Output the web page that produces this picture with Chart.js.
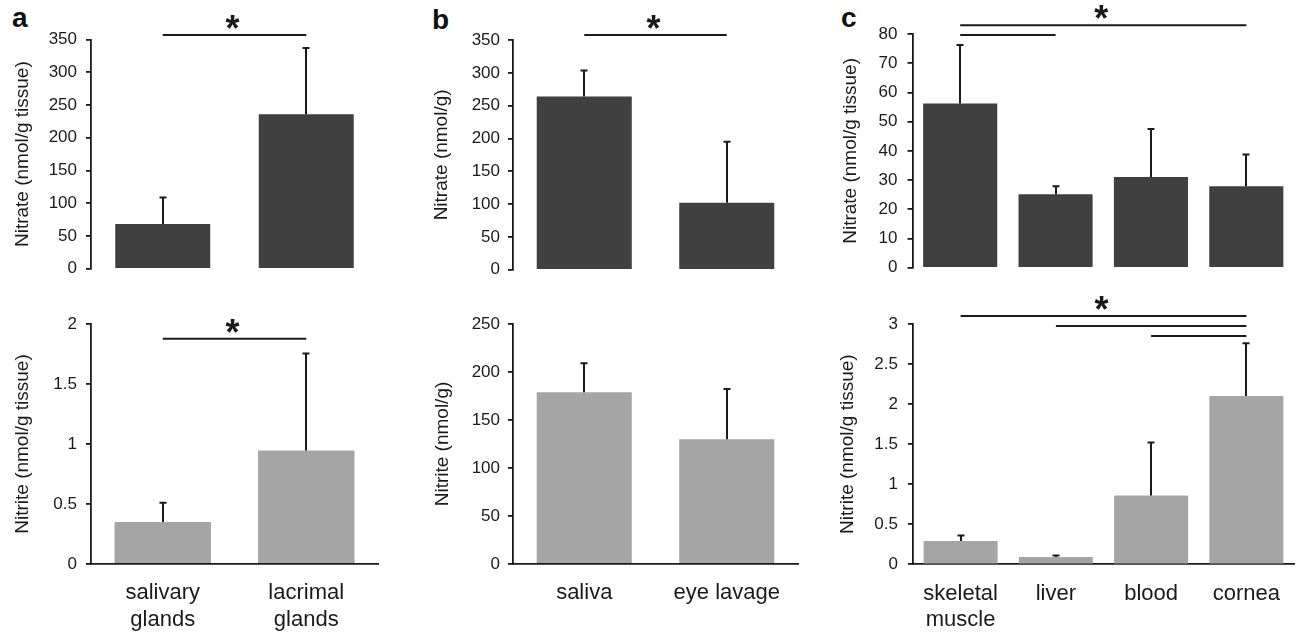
<!DOCTYPE html>
<html>
<head>
<meta charset="utf-8">
<script src="https://cdn.jsdelivr.net/npm/chart.js@4.4.1/dist/chart.umd.min.js"></script>
<style>
  html, body { margin: 0; padding: 0; background: #fff; }
  #wrap { position: relative; width: 1300px; height: 633px; overflow: hidden; }
  #wrap canvas { position: absolute; }
  .tag { position: absolute; font: bold 28px "Liberation Sans", Arial, sans-serif; line-height: 1; color: #111; }
</style>
</head>
<body>
<div id="wrap">
  <div class="tag" style="left:12px;top:4px">a</div>
  <div class="tag" style="left:432px;top:6px">b</div>
  <div class="tag" style="left:841px;top:4px">c</div>
  <canvas id="aTop"></canvas>
  <canvas id="aBot"></canvas>
  <canvas id="bTop"></canvas>
  <canvas id="bBot"></canvas>
  <canvas id="cTop"></canvas>
  <canvas id="cBot"></canvas>
</div>
<script>
// --- data ---
const aCats = [['salivary', 'glands'], ['lacrimal', 'glands']];
const aNitrate = [68.5, 236];
const aNitrateSD = [40.5, 101];
const aNitrite = [0.35, 0.945];
const aNitriteSD = [0.16, 0.81];

const bCats = ['saliva', 'eye lavage'];
const bNitrate = [264, 102];
const bNitrateSD = [39.5, 93];
const bNitrite = [179, 130];
const bNitriteSD = [30, 52.4];

const cCats = [['skeletal', 'muscle'], 'liver', 'blood', 'cornea'];
const cNitrate = [56.2, 25.2, 31.1, 27.9];
const cNitrateSD = [20, 2.7, 16.4, 10.9];
const cNitrite = [0.29, 0.09, 0.86, 2.10];
const cNitriteSD = [0.07, 0.02, 0.66, 0.66];

// tick values
const ticks350 = [0, 50, 100, 150, 200, 250, 300, 350];
const ticks2 = [0, 0.5, 1, 1.5, 2];
const ticks250 = [0, 50, 100, 150, 200, 250];
const ticks80 = [0, 10, 20, 30, 40, 50, 60, 70, 80];
const ticks3 = [0, 0.5, 1, 1.5, 2, 2.5, 3];

// significance brackets: [from category, to category, y value]
const aNitrateSig = [[0, 1, 357]];
const aNitriteSig = [[0, 1, 1.877]];
const bNitrateSig = [[0, 1, 357.7]];
const cNitrateSig = [[0, 3, 83.0], [0, 1, 79.7]];
const cNitriteSig = [[0, 3, 3.10], [1, 3, 2.975], [2, 3, 2.85]];

const DARK = '#404040';
const LIGHT = '#a5a5a5';
const INK = '#1a1a1a';
const FONT = '"Liberation Sans", Arial, sans-serif';

// error bars (upper only) + brackets with star
const errorBars = {
    id: 'errorBars',
    afterDatasetsDraw(chart, args, opts) {
        const { ctx, scales: { x, y } } = chart;
        const vals = chart.data.datasets[0].data;
        ctx.save();
        ctx.strokeStyle = INK;
        ctx.lineWidth = 2;
        vals.forEach((v, i) => {
            const px = Math.round(x.getPixelForValue(i));
            const y0 = y.getPixelForValue(v);
            const y1 = y.getPixelForValue(v + opts.sd[i]);
            ctx.beginPath();
            ctx.moveTo(px, y0);
            ctx.lineTo(px, y1);
            ctx.moveTo(px - 3.5, y1);
            ctx.lineTo(px + 3.5, y1);
            ctx.stroke();
        });
        const sig = opts.sig || [];
        sig.forEach(b => {
            const yy = y.getPixelForValue(b[2]);
            ctx.beginPath();
            ctx.moveTo(x.getPixelForValue(b[0]), yy);
            ctx.lineTo(x.getPixelForValue(b[1]), yy);
            ctx.stroke();
        });
        if (sig.length) {
            const b = sig[0];
            const mx = (x.getPixelForValue(b[0]) + x.getPixelForValue(b[1])) / 2;
            const my = y.getPixelForValue(b[2]) - 8.5;
            ctx.fillStyle = INK;
            ctx.font = 'bold 36px ' + FONT;
            ctx.textAlign = 'center';
            ctx.textBaseline = 'alphabetic';
            ctx.fillText('*', mx - 2, my + 0.41 * 36);
        }
        ctx.restore();
    }
};

// box: canvas position, area: wanted chart area (page pixels)
function makeChart(id, box, area, cats, vals, sd, sig, color, tickVals, title, o) {
    const cv = document.getElementById(id);
    cv.width = box.w;
    cv.height = box.h;
    cv.style.left = box.x + 'px';
    cv.style.top = box.y + 'px';
    const showX = o.showX;

    new Chart(cv.getContext('2d'), {
        type: 'bar',
        data: {
            labels: cats,
            datasets: [{
                data: vals,
                backgroundColor: color,
                borderWidth: 0,
                categoryPercentage: 1,
                barPercentage: o.barPct
            }]
        },
        options: {
            responsive: false,
            animation: false,
            layout: {
                padding: {
                    left: 0,
                    top: area.t - box.y,
                    right: box.x + box.w - area.r,
                    bottom: showX ? 0 : box.y + box.h - area.b
                }
            },
            plugins: {
                legend: { display: false },
                tooltip: { enabled: false },
                errorBars: { sd: sd, sig: sig }
            },
            scales: {
                x: {
                    display: showX,
                    grid: { display: false, drawTicks: false },
                    border: { display: true, color: INK, width: 1.8 },
                    ticks: {
                        color: INK,
                        padding: 16,
                        font: { family: FONT, size: 22, lineHeight: 1.2 },
                        maxRotation: 0,
                        autoSkip: false
                    },
                    afterFit: s => { s.height = box.y + box.h - area.b; }
                },
                y: {
                    min: tickVals[0],
                    max: tickVals[tickVals.length - 1],
                    afterBuildTicks: s => { s.ticks = tickVals.map(v => ({ value: v })); },
                    grid: { drawOnChartArea: false, drawTicks: true, tickLength: 5, color: INK, lineWidth: 1.8 },
                    border: { display: true, color: INK, width: 1.8 },
                    ticks: {
                        color: INK,
                        padding: o.tickPad,
                        font: { family: FONT, size: 17 },
                        callback: v => String(v)
                    },
                    title: {
                        display: true,
                        text: title,
                        color: INK,
                        font: { family: FONT, size: 19 },
                        padding: { top: o.titlePad, bottom: 0 }
                    },
                    afterFit: s => { s.width = area.l - box.x; }
                }
            }
        },
        plugins: [errorBars]
    });
}

makeChart('aTop', { x: 0, y: 0, w: 392, h: 288 }, { l: 91, t: 39.5, r: 378, b: 279.3 },
    aCats, aNitrate, aNitrateSD, aNitrateSig, DARK, ticks350, 'Nitrate (nmol/g tissue)',
    { showX: false, barPct: 0.662, tickPad: 9, titlePad: 11.6 });
makeChart('aBot', { x: 0, y: 288, w: 392, h: 345 }, { l: 91, t: 324, r: 378, b: 564 },
    aCats, aNitrite, aNitriteSD, aNitriteSig, LIGHT, ticks2, 'Nitrite (nmol/g tissue)',
    { showX: true, barPct: 0.672, tickPad: 9, titlePad: 11.6 });

makeChart('bTop', { x: 392, y: 0, w: 416, h: 288 }, { l: 513, t: 40, r: 798, b: 280.7 },
    bCats, bNitrate, bNitrateSD, bNitrateSig, DARK, ticks350, 'Nitrate (nmol/g)',
    { showX: false, barPct: 0.667, tickPad: 8, titlePad: 38.3 });
makeChart('bBot', { x: 392, y: 288, w: 416, h: 345 }, { l: 513, t: 324, r: 798, b: 564 },
    bCats, bNitrite, bNitriteSD, [], LIGHT, ticks250, 'Nitrite (nmol/g)',
    { showX: true, barPct: 0.667, tickPad: 8, titlePad: 39.6 });

makeChart('cTop', { x: 808, y: 0, w: 492, h: 288 }, { l: 912.5, t: 34, r: 1294, b: 278.7 },
    cCats, cNitrate, cNitrateSD, cNitrateSig, DARK, ticks80, 'Nitrate (nmol/g tissue)',
    { showX: false, barPct: 0.777, tickPad: 10, titlePad: 31.6 });
makeChart('cBot', { x: 808, y: 288, w: 492, h: 345 }, { l: 913, t: 324, r: 1294, b: 564.3 },
    cCats, cNitrite, cNitriteSD, cNitriteSig, LIGHT, ticks3, 'Nitrite (nmol/g tissue)',
    { showX: true, barPct: 0.777, tickPad: 10, titlePad: 28.1 });
</script>
</body>
</html>
